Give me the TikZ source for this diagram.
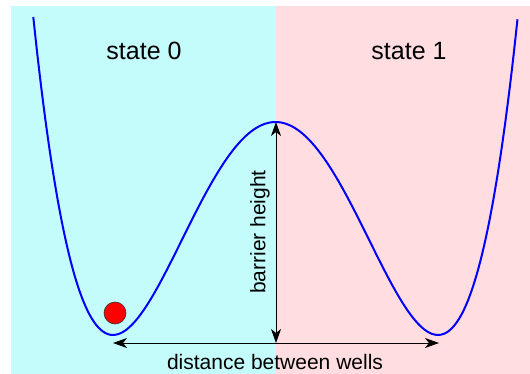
\documentclass[tikz,border=0pt]{standalone}
\usepackage{fontspec}
\setmainfont{Liberation Sans}
\usetikzlibrary{arrows.meta}
\definecolor{state0bg}{RGB}{196,252,252}
\definecolor{state1bg}{RGB}{255,221,224}
\tikzset{
  potential curve/.style={draw=blue, line width=2pt},
  measure arrow/.style={draw=black, line width=0.9pt,
    {Stealth[length=14pt,width=10pt,inset=4pt]}-{Stealth[length=14pt,width=10pt,inset=4pt]}},
  state label/.style={inner sep=0pt, font=\fontsize{25}{30}\selectfont},
  measure label/.style={inner sep=0pt, font=\fontsize{21}{25}\selectfont},
  particle/.style={circle, draw=black!80, fill=red, line width=0.6pt, inner sep=0pt, minimum size=22pt}
}

\begin{document}
\begin{tikzpicture}[x=1pt, y=-1pt]
  \useasboundingbox (0,0) rectangle (530,374);
  % the two states
  \fill[state0bg] (11,6) rectangle (276,374);
  \fill[state1bg] (276,6) rectangle (530,374);
  % double well
  \draw[potential curve] plot[domain=-1.4906:1.4906, samples=120, smooth]
    ({275.5+162.5*\x}, {335-213*(\x*\x-1)*(\x*\x-1)});
  \coordinate (peak) at (276,122);
  \coordinate (floor) at (276,343);
  \coordinate (left well) at (113,343);
  \coordinate (right well) at (439,343);
  \draw[measure arrow] (peak) -- (floor);
  \draw[measure arrow] (left well) -- (right well);
  \node[particle] (ball) at (115,313) {};
  \node[state label] (state0) at (144,51) {state 0};
  \node[state label] (state1) at (409,51) {state 1};
  \node[measure label, rotate=90] (barrier) at (260,232) {barrier height};
  \node[measure label] (distance) at (275,362) {distance between wells};
\end{tikzpicture}
\end{document}
